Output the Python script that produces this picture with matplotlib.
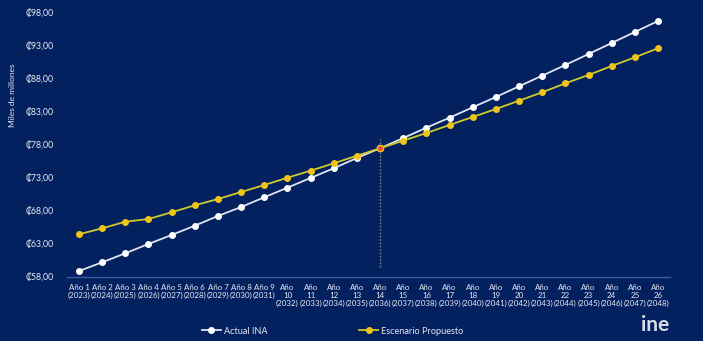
import matplotlib
matplotlib.use("Agg")
import matplotlib.pyplot as plt
from matplotlib.lines import Line2D

plt.rcParams['font.family'] = ['Lato', 'DejaVu Sans']

years = list(range(2023, 2049))
labels = []
for i, y in enumerate(years, start=1):
    if i < 10:
        labels.append(f"Año {i}\n({y})")
    else:
        labels.append(f"Año\n{i}\n({y})")

actual_ina = [58.95, 60.27, 61.64, 63.05, 64.41, 65.82, 67.29, 68.65, 70.12, 71.58,
              73.05, 74.52, 76.08, 77.55, 79.10, 80.67, 82.18, 83.76, 85.32, 86.94,
              88.55, 90.17, 91.83, 93.50, 95.17, 96.83]
escenario = [64.52, 65.42, 66.42, 66.83, 67.85, 68.91, 69.86, 70.92, 71.98, 73.09,
             74.15, 75.27, 76.42, 77.55, 78.70, 79.86, 81.08, 82.29, 83.50, 84.76,
             86.03, 87.39, 88.65, 90.02, 91.33, 92.70]
yticks = [58, 63, 68, 73, 78, 83, 88, 93, 98]
cross_idx = 13

BG = '#03215f'
W, H = 703, 341
fig = plt.figure(figsize=(W / 100, H / 100), dpi=100, facecolor=BG)
ax = fig.add_axes([67.4 / W, 1 - 277.3 / H, (669.6 - 67.4) / W, (277.3 - 13.3) / H])
ax.set_facecolor(BG)

x = list(range(len(labels)))
ax.vlines(cross_idx, 59.6, 79.0, colors='#6f8a7a', linestyles=(0, (1.2, 1.2)), linewidth=1.0, zorder=1)

ax.plot(x, actual_ina, color='#dfe4f2', linewidth=1.3, marker='o', markersize=4.0,
        markerfacecolor='white', markeredgecolor='white', zorder=3)
ax.plot(x, escenario, color='#cfcb2a', linewidth=1.3, marker='o', markersize=4.0,
        markerfacecolor='#f0c419', markeredgecolor='#f0c419', zorder=4)
ax.plot([cross_idx], [escenario[cross_idx]], marker='o', markersize=4.6,
        markerfacecolor='#e0552a', markeredgecolor='#f0c419', markeredgewidth=0.9, linestyle='none', zorder=5)

ax.set_xlim(-0.5, len(labels) - 0.5)
ax.set_ylim(58, 98)
ax.set_xticks(x)
ax.set_xticklabels(labels, fontsize=5.7, color='#e6e9f2', linespacing=1.15, va='top')
ax.set_yticks(yticks)
ax.set_yticklabels([f"₡{v:.2f}".replace('.', ',') for v in yticks], fontsize=6.3, color='#e6e9f2')
ax.tick_params(axis='both', length=0)
ax.tick_params(axis='x', pad=5)
ax.tick_params(axis='y', pad=10)
for s in ['top', 'right', 'left']:
    ax.spines[s].set_visible(False)
ax.spines['bottom'].set_color('#3a5cab')
ax.spines['bottom'].set_linewidth(1.0)

fig.text(13 / W, 1 - 95 / H, 'Miles de millones', rotation=90, fontsize=6.0,
         color='#e6e9f2', ha='center', va='center')

handles = [
    Line2D([0], [0], color='#dfe4f2', linewidth=1.3, marker='o', markersize=4.0,
           markerfacecolor='white', markeredgecolor='white'),
    Line2D([0], [0], color='#cfcb2a', linewidth=1.3, marker='o', markersize=4.0,
           markerfacecolor='#f0c419', markeredgecolor='#f0c419'),
]
leg = fig.legend(handles, ['Actual INA', 'Escenario Propuesto'], loc='center',
                 bbox_to_anchor=(333 / W, 1 - 331 / H), ncol=2, frameon=False,
                 fontsize=6.6, handlelength=2.0, columnspacing=10.0, handletextpad=0.4)
for t in leg.get_texts():
    t.set_color('#e6e9f2')

fig.text(655 / W, 1 - 325 / H, 'ine', fontsize=15, fontweight='bold', color='white',
         ha='center', va='center', alpha=0.85)

fig.savefig('out.png', dpi=100, facecolor=BG)
